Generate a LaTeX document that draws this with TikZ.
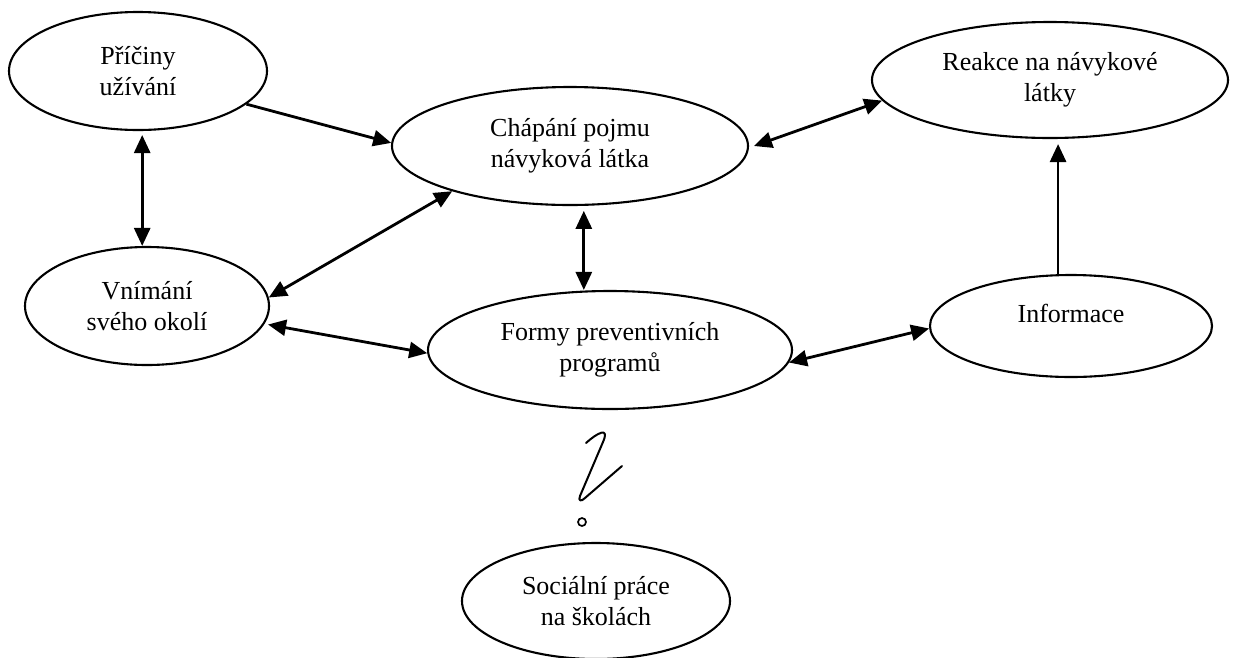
\documentclass[tikz,border=0pt]{standalone}
\usepackage{fontspec}
\setmainfont{Liberation Serif}
\usetikzlibrary{arrows.meta,shapes.geometric,calc}
\begin{document}
\begin{tikzpicture}[x=1pt,y=-1pt,
  oval/.style={ellipse,draw,line width=2.1pt,inner sep=0pt,align=center,
    font=\fontsize{26}{30.5}\selectfont},
  lbl/.style={inner sep=0pt,font=\fontsize{26}{30.5}\selectfont},
  tip/.tip={Triangle[length=18pt 0,width=16pt 0]},
  link/.style={line width=2.8pt,-tip},
  both/.style={line width=2.8pt,tip-tip}]
\useasboundingbox (0,0) rectangle (1235,657);

\node[oval,minimum width=258pt,minimum height=118pt] (pric) at (138,71) {Příčiny\\užívání};
\node[oval,minimum width=356pt,minimum height=118pt] (chap) at (570,146) {Chápání pojmu\\návyková látka};
\node[oval,minimum width=356pt,minimum height=116pt] (reak) at (1050,80) {Reakce na návykové\\látky};
\node[oval,minimum width=244pt,minimum height=118pt] (vnim) at (147,306) {Vnímání\\svého okolí};
\node[oval,minimum width=364pt,minimum height=118pt] (form) at (610,350) {Formy preventivních\\programů};
\node[oval,minimum width=282pt,minimum height=102pt] (info) at (1071,326) {};
\node[lbl] (infolbl) at (1071,313) {Informace};
\node[oval,minimum width=268pt,minimum height=116pt] (soc) at (596,601) {Sociální práce\\na školách};

\draw[link] (pric.-17) -- (chap.179);
\draw[both] ($(pric.-86)+(0,4)$) -- (pric.-86 |- vnim.north);
\draw[both] (vnim.4) -- (chap.201);
\draw[both] ($(chap.-77)+(0,5)$) -- (chap.-77 |- form.north);
\draw[both] ($(chap.0)+(5,0)$) -- (reak.187);
\draw[both] ($(vnim.-9)+(4,0)$) -- (form.181);
\draw[both] (form.-4) -- (info.181);
\draw[link] (info.104.5) -- ($(info.104.5 |- reak.south)+(0,5)$);

\draw[line width=2pt,line cap=round,line join=round]
  (586,443) .. controls (597,433) and (610,426) .. (603,442)
  -- (580,496) .. controls (578,501) and (581,502) .. (585,498)
  -- (622,466);
\draw[line width=1.7pt] (582,522) circle[radius=4pt];
\end{tikzpicture}
\end{document}
